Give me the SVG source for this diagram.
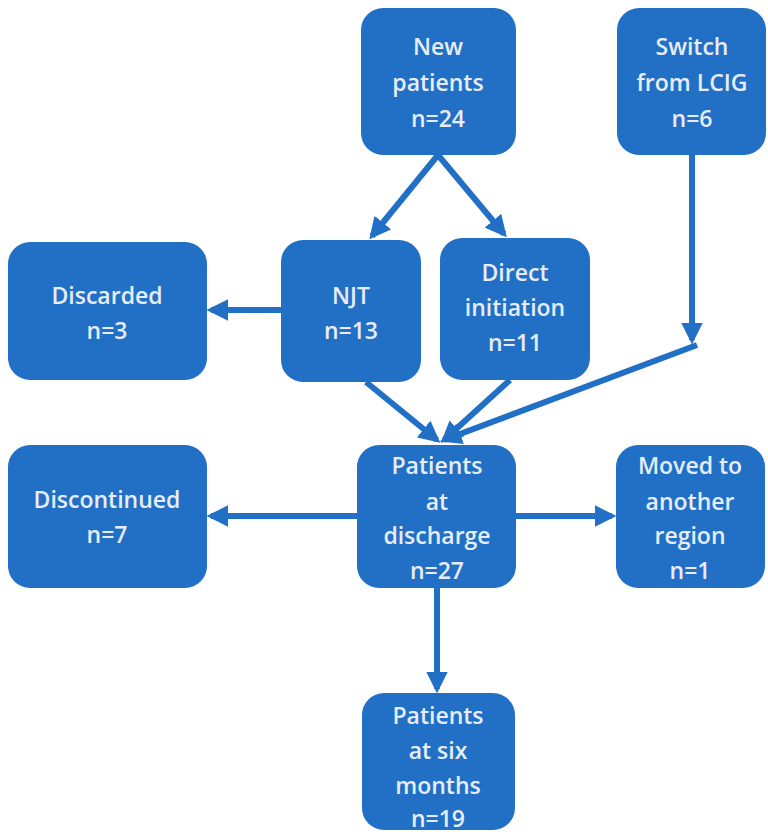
<svg xmlns="http://www.w3.org/2000/svg" width="768" height="836" viewBox="0 0 768 836">
<style>
.box{fill:#2170c6;}
.t{fill:#e6edf8;font-family:"Open Sans","Noto Sans",sans-serif;font-size:23px;font-weight:600;text-anchor:middle;}
.c{stroke:#2170c6;stroke-width:6;fill:none;marker-end:url(#ah);}
</style>
<defs>
<marker id="ah" viewBox="0 0 10 10" refX="8" refY="5" markerWidth="3.6" markerHeight="3.6" orient="auto" markerUnits="strokeWidth">
<path d="M0,0 L10,5 L0,10 z" fill="#2170c6"/>
</marker>
</defs>
<rect width="768" height="836" fill="#ffffff"/>
<g id="connectors">
<line class="c" x1="438" y1="155" x2="372" y2="236"/>
<line class="c" x1="438" y1="155" x2="504" y2="234"/>
<line class="c" x1="692" y1="155" x2="692" y2="340"/>
<line class="c" x1="697" y1="345" x2="444" y2="440"/>
<line class="c" x1="281" y1="310" x2="211" y2="310"/>
<line class="c" x1="366" y1="382" x2="437" y2="440"/>
<line class="c" x1="510" y1="380" x2="444" y2="440"/>
<line class="c" x1="357" y1="516" x2="211" y2="516"/>
<line class="c" x1="516" y1="516" x2="612" y2="516"/>
<line class="c" x1="437" y1="588" x2="437" y2="689"/>
</g>
<g id="new-patients">
<rect class="box" x="361" y="8" width="155" height="147" rx="22"/>
<text class="t" x="438" y="55">New</text>
<text class="t" x="438" y="91">patients</text>
<text class="t" x="438" y="127">n=24</text>
</g>
<g id="switch-lcig">
<rect class="box" x="617" y="8" width="149" height="147" rx="22"/>
<text class="t" x="692" y="55">Switch</text>
<text class="t" x="692" y="91">from LCIG</text>
<text class="t" x="692" y="127">n=6</text>
</g>
<g id="discarded">
<rect class="box" x="8" y="242" width="199" height="138" rx="22"/>
<text class="t" x="107" y="304">Discarded</text>
<text class="t" x="107" y="339">n=3</text>
</g>
<g id="njt">
<rect class="box" x="281" y="240" width="140" height="142" rx="22"/>
<text class="t" x="351" y="304">NJT</text>
<text class="t" x="351" y="339">n=13</text>
</g>
<g id="direct-initiation">
<rect class="box" x="440" y="238" width="150" height="142" rx="22"/>
<text class="t" x="515" y="281">Direct</text>
<text class="t" x="515" y="316">initiation</text>
<text class="t" x="515" y="351">n=11</text>
</g>
<g id="discontinued">
<rect class="box" x="8" y="445" width="199" height="143" rx="22"/>
<text class="t" x="107" y="508">Discontinued</text>
<text class="t" x="107" y="543">n=7</text>
</g>
<g id="patients-discharge">
<rect class="box" x="357" y="445" width="159" height="143" rx="22"/>
<text class="t" x="437" y="474">Patients</text>
<text class="t" x="437" y="510">at</text>
<text class="t" x="437" y="544">discharge</text>
<text class="t" x="437" y="579">n=27</text>
</g>
<g id="moved">
<rect class="box" x="616" y="445" width="149" height="143" rx="22"/>
<text class="t" x="690" y="474">Moved to</text>
<text class="t" x="690" y="510">another</text>
<text class="t" x="690" y="544">region</text>
<text class="t" x="690" y="579">n=1</text>
</g>
<g id="six-months">
<rect class="box" x="362" y="693" width="153" height="137" rx="22"/>
<text class="t" x="438" y="724">Patients</text>
<text class="t" x="438" y="759">at six</text>
<text class="t" x="438" y="794">months</text>
<text class="t" x="438" y="827">n=19</text>
</g>
</svg>
